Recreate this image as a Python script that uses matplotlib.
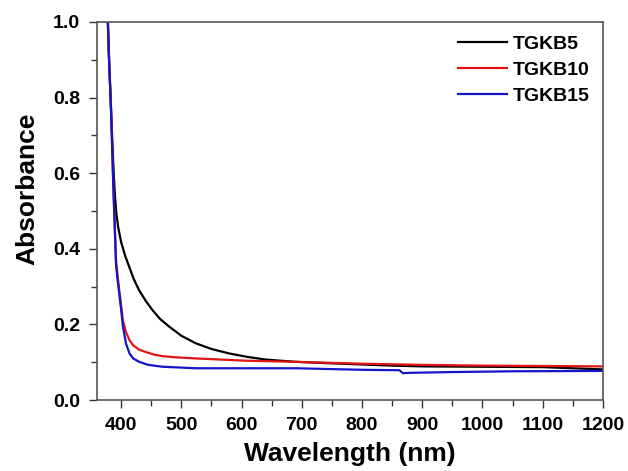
import matplotlib.pyplot as plt

plt.rcParams['font.family'] = ['Liberation Sans', 'DejaVu Sans']
plt.rcParams['font.weight'] = 'bold'

# absorbance spectra
wl_5 = [378, 380, 383, 386, 388, 390, 392, 395, 400, 407, 414, 421, 430, 441,
        452, 465, 480, 500, 524, 550, 580, 610, 640, 690, 750, 800, 850, 900,
        1000, 1100, 1150, 1200]
abs_5 = [1.0, 0.9, 0.78, 0.66, 0.59, 0.535, 0.495, 0.458, 0.418, 0.38, 0.35, 0.32,
         0.29, 0.262, 0.238, 0.214, 0.194, 0.17, 0.15, 0.135, 0.123, 0.114,
         0.107, 0.101, 0.097, 0.094, 0.091, 0.089, 0.088, 0.087, 0.084, 0.081]

wl_10 = [378, 380, 383, 387, 391.5, 394, 397, 400, 403, 408, 414, 420, 430, 441,
         455, 469, 490, 524, 607, 690, 800, 900, 1000, 1100, 1200]
abs_10 = [1.0, 0.9, 0.78, 0.57, 0.37, 0.33, 0.29, 0.25, 0.21, 0.18, 0.158, 0.145,
          0.133, 0.127, 0.12, 0.116, 0.113, 0.11, 0.104, 0.101, 0.096, 0.093,
          0.091, 0.09, 0.089]

wl_15 = [378, 380, 383, 387, 391.5, 394, 397, 400, 403, 408, 414, 420, 430, 445,
         469, 524, 600, 690, 800, 850, 862, 868, 880, 950, 1050, 1200]
abs_15 = [1.0, 0.9, 0.78, 0.57, 0.36, 0.32, 0.28, 0.24, 0.195, 0.15, 0.123, 0.11,
          0.101, 0.093, 0.088, 0.084, 0.084, 0.084, 0.08, 0.079, 0.079, 0.071,
          0.072, 0.074, 0.076, 0.077]

fig = plt.figure(figsize=(6.28, 4.71), dpi=100)
ax = fig.add_axes([0.1545, 0.1507, 0.8055, 0.8026])

ax.plot(wl_5, abs_5, color='black', lw=1.6, label='TGKB5')
ax.plot(wl_10, abs_10, color='#e01414', lw=1.6, label='TGKB10')
ax.plot(wl_15, abs_15, color='#1414c8', lw=1.6, label='TGKB15')

ax.set_xlim(360, 1200)
ax.set_ylim(0, 1.0)
ax.set_xticks(range(400, 1201, 100))
ax.set_xticks(range(400, 1201, 50), minor=True)
ax.set_yticks([0.0, 0.2, 0.4, 0.6, 0.8, 1.0])
ax.set_yticks([0.1, 0.3, 0.5, 0.7, 0.9], minor=True)
ax.tick_params(direction='out', labelsize=14, width=1, length=6, pad=6,
               color='#333333')
ax.tick_params(which='minor', direction='out', width=1, length=4, color='#333333')
for s in ax.spines.values():
    s.set_color('#555555')
    s.set_linewidth(1.2)

ax.set_xlabel('Wavelength (nm)', fontsize=19, fontweight='bold', labelpad=6)
ax.set_ylabel('Absorbance', fontsize=19, fontweight='bold')
ax.yaxis.set_label_coords(-0.115, 0.56)

leg = ax.legend(loc='upper right', frameon=False, fontsize=14, handlelength=2.5,
                handletextpad=0.3, labelspacing=0.42, borderaxespad=0.3)
for t in leg.get_texts():
    t.set_fontweight('bold')

fig.savefig('out.png', dpi=100)
